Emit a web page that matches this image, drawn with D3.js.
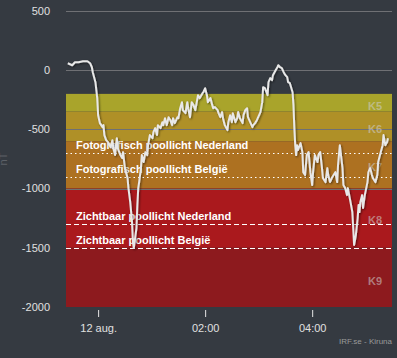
<!DOCTYPE html>
<html>
<head>
<meta charset="utf-8">
<script src="https://cdn.jsdelivr.net/npm/d3@7"></script>
<style>
html,body{margin:0;padding:0;background:#353a41;}
svg{display:block;font-family:"Liberation Sans",Arial,sans-serif;}
</style>
</head>
<body>
<div id="chart"></div>
<script>
// minutes after 12 aug 00:00 (UTC) and the magnetometer value (nT)
const minutes = [-34,-29,-26,-22,-17,-12,-9,-7,-6,-3,-1,0,2,5,6,7,9,11,14,16,17,19,21,22,25,27,28,30,33,34,36,38,39,40,43,44,45,46,48,49,51,53,55,56,58,61,62,64,66,67,70,72,73,75,77,79,81,83,84,86,89,90,92,94,95,98,100,101,103,105,107,109,111,112,114,117,118,120,122,123,126,128,129,131,134,135,137,139,140,142,145,146,148,150,151,154,156,157,159,162,163,165,167,168,171,173,174,176,178,179,182,184,185,187,190,191,193,195,196,199,201,202,204,206,208,210,212,213,215,218,219,220,221,222,223,224,227,229,230,232,234,236,238,240,241,243,246,247,249,251,252,255,257,258,260,262,264,266,268,269,271,274,275,277,279,280,283,285,286,287,289,291,292,293,294,296,297,299,302,303,305,307,308,311,313,314,316,319,320,322,324,325];
const values = [59,42,67,67,76,76,59,25,-17,-101,-236,-380,-447,-481,-464,-548,-591,-607,-650,-591,-658,-717,-574,-658,-717,-742,-692,-827,-911,-996,-1114,-1282,-1451,-1502,-1333,-1139,-996,-945,-827,-717,-776,-692,-717,-633,-548,-574,-523,-489,-548,-464,-489,-439,-464,-405,-464,-397,-422,-464,-405,-447,-397,-405,-321,-270,-337,-363,-270,-321,-397,-270,-295,-337,-253,-211,-236,-194,-186,-152,-211,-270,-236,-295,-321,-312,-337,-363,-397,-354,-405,-464,-506,-439,-380,-439,-363,-439,-405,-354,-405,-447,-380,-337,-321,-397,-447,-481,-464,-447,-422,-405,-354,-270,-143,-152,-211,-101,-67,-84,-42,0,25,42,25,17,-17,-42,-59,-101,-110,-186,-295,-489,-633,-717,-633,-675,-616,-692,-861,-886,-717,-692,-861,-970,-861,-717,-776,-717,-692,-827,-911,-945,-827,-886,-945,-911,-886,-861,-945,-802,-633,-827,-970,-996,-1055,-996,-1114,-1198,-1333,-1476,-1392,-1249,-1139,-1198,-1114,-1055,-1164,-1055,-945,-861,-827,-886,-911,-945,-886,-776,-717,-633,-548,-633,-607,-574];

// K-index bands
const kNames = ["K5","K6","K7","K8","K9"];
const kTop = [-200,-350,-600,-1000,-1500];
const kBottom = [-350,-600,-1000,-1500,-2000];
const kColors = ["#a9a42b","#af9027","#ad7121","#aa191d","#8d1a1e"];
const kLabelAt = [-300,-500,-820,-1270,-1780];

// aurora thresholds
const thrNames = ["Fotografisch poollicht Nederland","Fotografisch poollicht België","Zichtbaar poollicht Nederland","Zichtbaar poollicht België"];
const thrValues = [-700,-900,-1300,-1500];
const thrDash = ["1.5,3","1.5,3","5,3","5,3"];

const yTicks = [500,0,-500,-1000,-1500,-2000];
const gridValues = [500,0,-500,-1000];
const xTickHours = [0,2,4];

const W = 397, H = 358;
const M = {left:66, right:5, top:11, bottom:51};
const t0 = Date.UTC(2024,7,12);
const toDate = m => new Date(t0 + m*60000);
const data = minutes.map((m,i)=>({t:toDate(m), v:values[i]}));

const svg = d3.select("#chart").append("svg").attr("width",W).attr("height",H);
svg.append("rect").attr("width",W).attr("height",H).attr("fill","#353a41");

const x = d3.scaleUtc().domain([toDate(-36), toDate(329.5)]).range([M.left, W-M.right]);
const y = d3.scaleLinear().domain([-2000,500]).range([H-M.bottom, M.top]);

const defs = svg.append("defs");
const f = defs.append("filter").attr("id","shadow").attr("x","-10%").attr("y","-10%").attr("width","120%").attr("height","120%");
f.append("feDropShadow").attr("dx",1).attr("dy",1).attr("stdDeviation",1.2).attr("flood-color","#000").attr("flood-opacity",0.55);
defs.append("clipPath").attr("id","clip").append("rect")
  .attr("x",M.left).attr("y",M.top-2).attr("width",W-M.right-M.left).attr("height",H-M.bottom-M.top+4);

// bands
svg.append("g").selectAll("rect").data(kNames).join("rect")
  .attr("x",M.left).attr("width",W-M.right-M.left)
  .attr("y",(d,i)=>y(kTop[i])).attr("height",(d,i)=>y(kBottom[i])-y(kTop[i]))
  .attr("fill",(d,i)=>kColors[i]);

// grid
svg.append("g").selectAll("line").data(gridValues).join("line")
  .attr("x1",M.left).attr("x2",W-M.right)
  .attr("y1",d=>Math.round(y(d))+0.5).attr("y2",d=>Math.round(y(d))+0.5)
  .attr("stroke","#6f7074").attr("stroke-width",1);

// K labels
svg.append("g").selectAll("text").data(kNames).join("text")
  .attr("x",382).attr("y",(d,i)=>y(kLabelAt[i]))
  .attr("dy","0.35em").attr("text-anchor","end")
  .attr("fill","#cfcfcf").attr("fill-opacity",0.55)
  .attr("font-size",11).attr("font-weight","bold").text(d=>d);

// thresholds
const thr = svg.append("g");
thr.selectAll("line").data(thrNames).join("line")
  .attr("x1",M.left).attr("x2",W-M.right)
  .attr("y1",(d,i)=>Math.round(y(thrValues[i]))+0.5).attr("y2",(d,i)=>Math.round(y(thrValues[i]))+0.5)
  .attr("stroke","#fff").attr("stroke-width",1.2).attr("stroke-dasharray",(d,i)=>thrDash[i]);
thr.selectAll("text").data(thrNames).join("text")
  .attr("x",76).attr("y",(d,i)=>y(thrValues[i])-4)
  .attr("fill","#fff").attr("font-size",11).attr("font-weight","bold").text(d=>d);

// y axis labels
svg.append("g").selectAll("text").data(yTicks).join("text")
  .attr("x",50).attr("y",d=>y(d)).attr("dy","0.35em").attr("text-anchor","end")
  .attr("fill","#e0e0e0").attr("font-size",11).text(d=>d);
svg.append("text").attr("transform",`translate(7,${y(-750)}) rotate(-90)`)
  .attr("text-anchor","middle").attr("fill","#5d6168").attr("font-size",11).text("nT");

// x axis
const xa = svg.append("g").attr("transform",`translate(0,${H-M.bottom})`)
  .call(d3.axisBottom(x).tickValues(xTickHours.map(h=>toDate(h*60))).tickSize(8).tickPadding(9)
    .tickFormat(d=>d.getUTCHours()===0 ? "12 aug." : d3.utcFormat("%H:%M")(d)));
xa.select(".domain").remove();
xa.selectAll(".tick line").attr("stroke","#e6e6e6").attr("transform","translate(0,3)").attr("y2",7);
xa.selectAll(".tick text").attr("fill","#e0e0e0").attr("font-size",11).attr("font-family","Liberation Sans, Arial, sans-serif");

// data line
const line = d3.line().x(d=>x(d.t)).y(d=>y(d.v));
svg.append("path").datum(data).attr("clip-path","url(#clip)")
  .attr("fill","none").attr("stroke","#e8e8e8").attr("stroke-width",2)
  .attr("stroke-linejoin","round").attr("filter","url(#shadow)").attr("d",line);

svg.append("text").attr("x",392).attr("y",344).attr("text-anchor","end")
  .attr("fill","#9a9a9a").attr("font-size",8).text("IRF.se - Kiruna");
</script>
</body>
</html>
